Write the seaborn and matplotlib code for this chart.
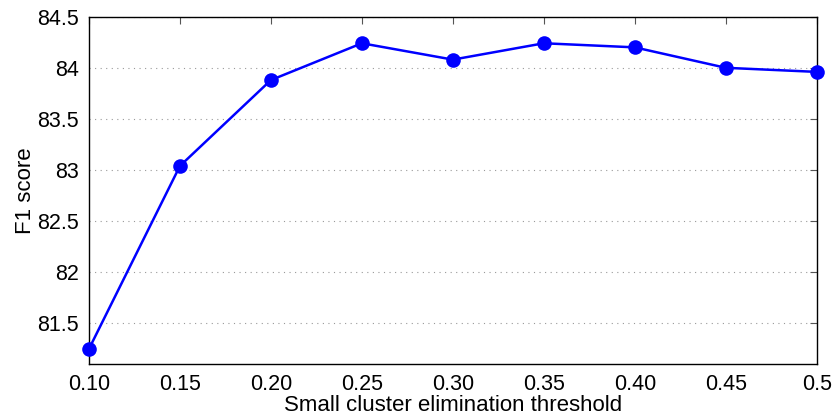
import seaborn as sns
import matplotlib.pyplot as plt
import pandas as pd

thresholds = [0.10, 0.15, 0.20, 0.25, 0.30, 0.35, 0.40, 0.45, 0.50]
f1_scores = [81.25, 83.04, 83.88, 84.24, 84.08, 84.24, 84.20, 84.00, 83.96]
x_tick_labels = ["0.10", "0.15", "0.20", "0.25", "0.30", "0.35", "0.40", "0.45", "0.5"]
y_ticks = [81.5, 82, 82.5, 83, 83.5, 84, 84.5]
y_tick_labels = ["81.5", "82", "82.5", "83", "83.5", "84", "84.5"]

sns.set_style("white")
plt.rcParams["font.family"] = ["Liberation Sans", "DejaVu Sans"]

df = pd.DataFrame({"threshold": thresholds, "f1": f1_scores})

fig = plt.figure(figsize=(8.33, 4.15), dpi=100)
ax = fig.add_axes([0.1068, 0.1222, 0.8737, 0.8376])

sns.lineplot(data=df, x="threshold", y="f1", ax=ax, color="#0000ff",
             linewidth=1.8, marker="o", markersize=10.5, markeredgewidth=0,
             clip_on=False, zorder=3)

ax.set_xlim(0.10, 0.50)
ax.set_ylim(81.1, 84.5)
ax.set_xticks(thresholds)
ax.set_xticklabels(x_tick_labels)
ax.set_yticks(y_ticks)
ax.set_yticklabels(y_tick_labels)

# MATLAB-like: inward ticks on all four sides, dotted horizontal grid
ax.tick_params(direction="in", length=5, width=0.8, color="#555555",
               top=True, right=True, labelsize=15.5, pad=7, labelcolor="black")
ax.yaxis.grid(True, linestyle=(0, (1, 4)), color="#999999", linewidth=0.8)
ax.xaxis.grid(False)
for s in ax.spines.values():
    s.set_color("black")
    s.set_linewidth(1.0)

ax.set_xlabel("Small cluster elimination threshold", fontsize=16, labelpad=0,
              color="black")
ax.set_ylabel("F1 score", fontsize=16, labelpad=1, color="black")

plt.savefig("out.png", dpi=100)
